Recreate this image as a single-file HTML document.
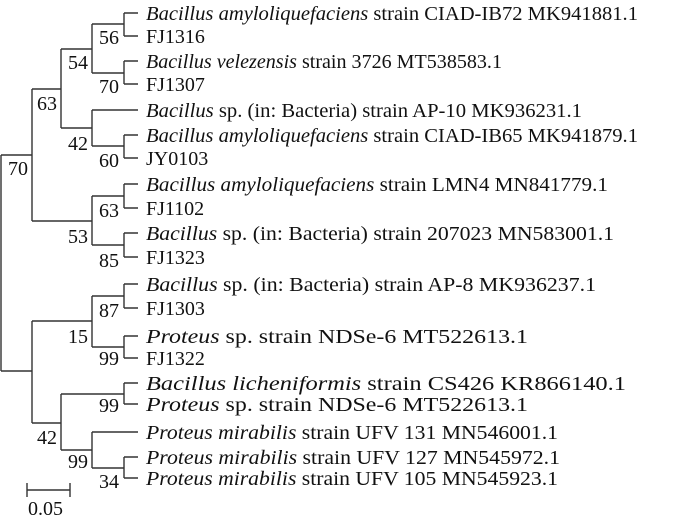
<!DOCTYPE html>
<html><head><style>
html,body{margin:0;padding:0;background:#fff;}
svg{display:block;}
</style></head><body>
<svg width="678" height="522" viewBox="0 0 678 522" xmlns="http://www.w3.org/2000/svg" font-family="Liberation Serif, Times New Roman, serif" font-size="20" fill="#111">
<g stroke="#333" stroke-width="1.4" fill="none">
<path d="M1,155 V371 M1,155 H32 M1,371 H32"/>
<path d="M32,89 V221 M32,89 H61 M32,221 H92"/>
<path d="M61,49 V128 M61,49 H92 M61,128 H92"/>
<path d="M92,24 V73 M92,24 H124 M92,73 H124"/>
<path d="M124,13 V36 M124,13 H138 M124,36 H138"/>
<path d="M124,61 V84 M124,61 H138 M124,84 H138"/>
<path d="M92,110 V146 M92,110 H138 M92,146 H124"/>
<path d="M124,135 V158 M124,135 H138 M124,158 H138"/>
<path d="M92,196 V245 M92,196 H124 M92,245 H124"/>
<path d="M124,184 V208 M124,184 H138 M124,208 H138"/>
<path d="M124,233 V257 M124,233 H138 M124,257 H138"/>
<path d="M32,321 V423 M32,321 H92 M32,423 H61"/>
<path d="M92,296 V347 M92,296 H124 M92,347 H124"/>
<path d="M124,284 V308 M124,284 H138 M124,308 H138"/>
<path d="M124,336 V358 M124,336 H138 M124,358 H138"/>
<path d="M61,394 V450 M61,394 H124 M61,450 H92"/>
<path d="M124,383 V404 M124,383 H138 M124,404 H138"/>
<path d="M92,432 V468 M92,432 H138 M92,468 H124"/>
<path d="M124,457 V478 M124,457 H138 M124,478 H138"/>
<path d="M27,490 H70 M27,483 V497 M70,483 V497"/>
</g>
<g text-anchor="end" font-size="20">
<text x="119" y="44">56</text>
<text x="88" y="69">54</text>
<text x="119" y="93">70</text>
<text x="57" y="110">63</text>
<text x="88" y="150">42</text>
<text x="119" y="167">60</text>
<text x="28" y="175">70</text>
<text x="119" y="217">63</text>
<text x="88" y="243">53</text>
<text x="119" y="267">85</text>
<text x="119" y="317">87</text>
<text x="88" y="343">15</text>
<text x="119" y="365">99</text>
<text x="119" y="412">99</text>
<text x="57" y="444">42</text>
<text x="88" y="468">99</text>
<text x="119" y="488">34</text>
</g>
<text x="28" y="515" font-size="20">0.05</text>
<g font-size="20">
<text x="146" y="20" textLength="492" lengthAdjust="spacingAndGlyphs"><tspan font-style="italic">Bacillus amyloliquefaciens</tspan> strain CIAD-IB72 MK941881.1</text>
<text x="146" y="43">FJ1316</text>
<text x="146" y="68" textLength="356" lengthAdjust="spacingAndGlyphs"><tspan font-style="italic">Bacillus velezensis</tspan> strain 3726 MT538583.1</text>
<text x="146" y="91">FJ1307</text>
<text x="146" y="117" textLength="436" lengthAdjust="spacingAndGlyphs"><tspan font-style="italic">Bacillus</tspan> sp. (in: Bacteria) strain AP-10 MK936231.1</text>
<text x="146" y="142" textLength="492" lengthAdjust="spacingAndGlyphs"><tspan font-style="italic">Bacillus amyloliquefaciens</tspan> strain CIAD-IB65 MK941879.1</text>
<text x="146" y="165">JY0103</text>
<text x="146" y="191" textLength="462" lengthAdjust="spacingAndGlyphs"><tspan font-style="italic">Bacillus amyloliquefaciens</tspan> strain LMN4 MN841779.1</text>
<text x="146" y="215">FJ1102</text>
<text x="146" y="240" textLength="468" lengthAdjust="spacingAndGlyphs"><tspan font-style="italic">Bacillus</tspan> sp. (in: Bacteria) strain 207023 MN583001.1</text>
<text x="146" y="264">FJ1323</text>
<text x="146" y="291" textLength="450" lengthAdjust="spacingAndGlyphs"><tspan font-style="italic">Bacillus</tspan> sp. (in: Bacteria) strain AP-8 MK936237.1</text>
<text x="146" y="315">FJ1303</text>
<text x="146" y="343" textLength="382" lengthAdjust="spacingAndGlyphs"><tspan font-style="italic">Proteus</tspan> sp. strain NDSe-6 MT522613.1</text>
<text x="146" y="365">FJ1322</text>
<text x="146" y="390" textLength="480" lengthAdjust="spacingAndGlyphs"><tspan font-style="italic">Bacillus licheniformis</tspan> strain CS426 KR866140.1</text>
<text x="146" y="411" textLength="382" lengthAdjust="spacingAndGlyphs"><tspan font-style="italic">Proteus</tspan> sp. strain NDSe-6 MT522613.1</text>
<text x="146" y="439" textLength="412" lengthAdjust="spacingAndGlyphs"><tspan font-style="italic">Proteus mirabilis</tspan> strain UFV 131 MN546001.1</text>
<text x="146" y="464" textLength="414" lengthAdjust="spacingAndGlyphs"><tspan font-style="italic">Proteus mirabilis</tspan> strain UFV 127 MN545972.1</text>
<text x="146" y="485" textLength="412" lengthAdjust="spacingAndGlyphs"><tspan font-style="italic">Proteus mirabilis</tspan> strain UFV 105 MN545923.1</text>
</g>
</svg>
</body></html>
